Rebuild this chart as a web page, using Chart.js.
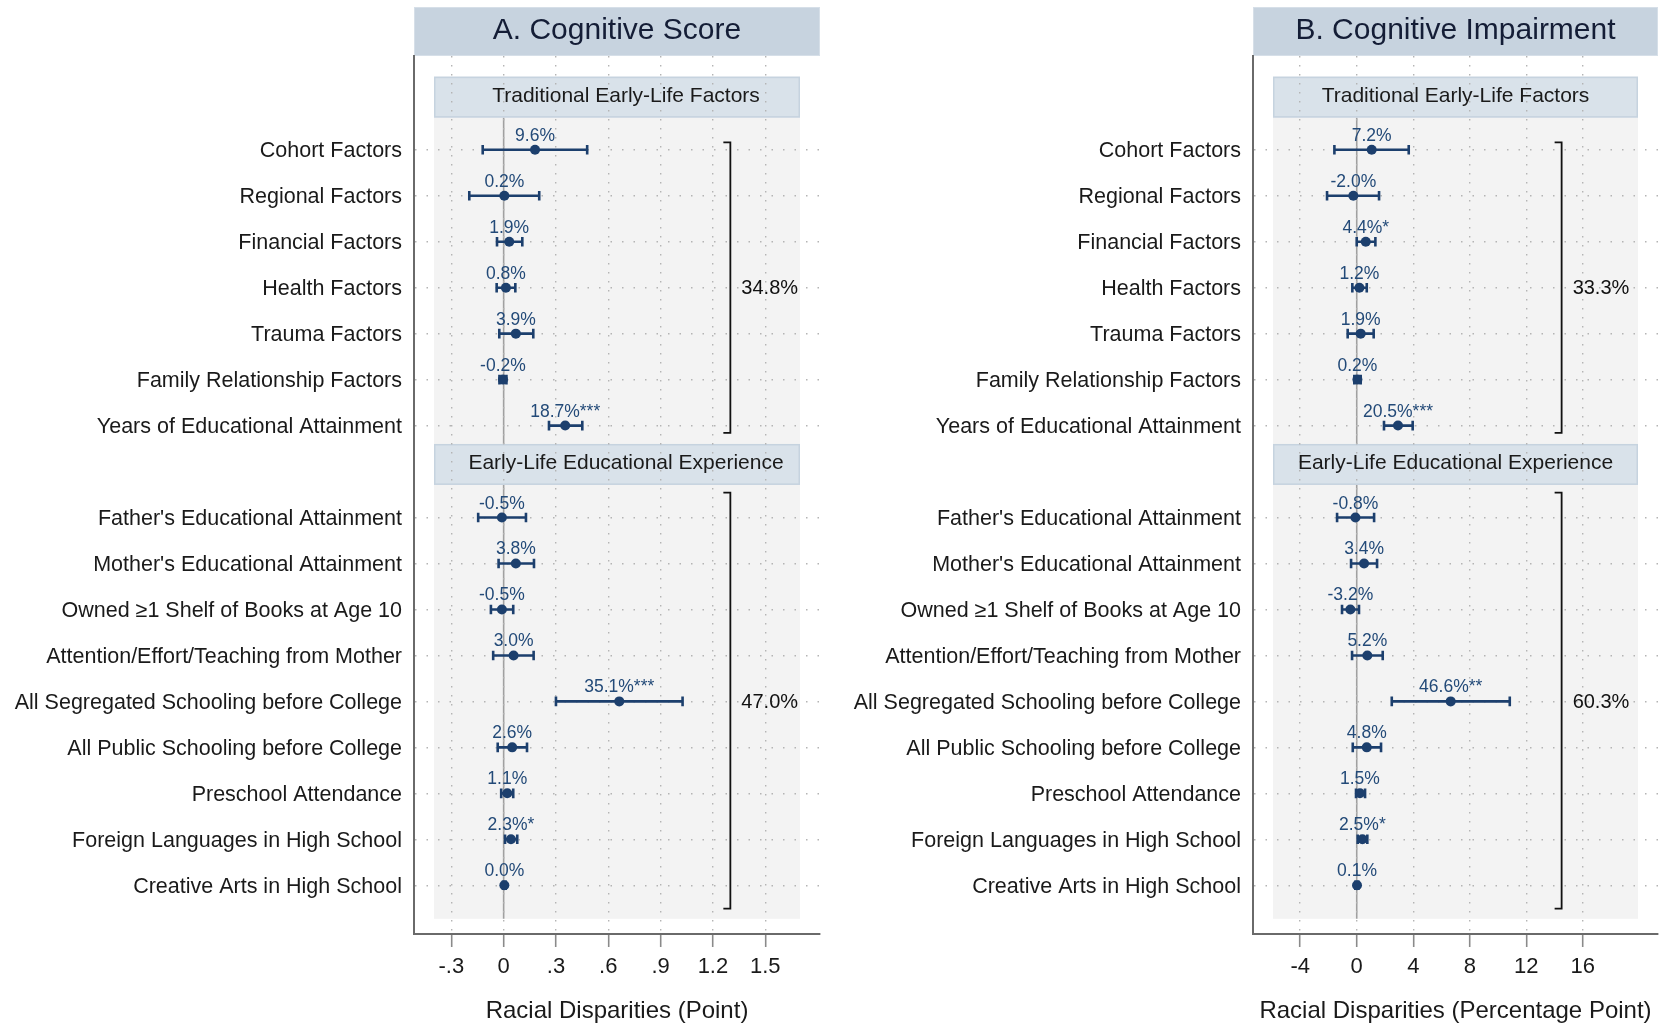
<!DOCTYPE html>
<html>
<head>
<meta charset="utf-8">
<script src="https://cdn.jsdelivr.net/npm/chart.js@4.4.1/dist/chart.umd.min.js"></script>
<style>
  html, body { margin: 0; padding: 0; background: #ffffff; }
  #wrap { position: relative; width: 1665px; height: 1024px; overflow: hidden; }
  canvas { position: absolute; top: 0; }
  #cA { left: 0; }
  #cB { left: 832px; }
</style>
</head>
<body>
<div id="wrap">
  <canvas id="cA" width="832" height="1024"></canvas>
  <canvas id="cB" width="833" height="1024"></canvas>
</div>
<script>
// ---------------- DATA ----------------
const categories = [
  "Cohort Factors", "Regional Factors", "Financial Factors", "Health Factors",
  "Trauma Factors", "Family Relationship Factors", "Years of Educational Attainment",
  "Father's Educational Attainment", "Mother's Educational Attainment",
  "Owned \u22651 Shelf of Books at Age 10", "Attention/Effort/Teaching from Mother",
  "All Segregated Schooling before College", "All Public Schooling before College",
  "Preschool Attendance", "Foreign Languages in High School", "Creative Arts in High School"
];
const rowPositions = [0, 1, 2, 3, 4, 5, 6, 8, 9, 10, 11, 12, 13, 14, 15, 16];
const groupNames = ["Traditional Early-Life Factors", "Early-Life Educational Experience"];
const groupCenterRows = [3, 12];

// Panel A: Cognitive Score (points)
const estA  = [0.180, 0.004, 0.032, 0.013, 0.070, -0.004, 0.353, -0.010, 0.070, -0.010, 0.057, 0.663, 0.049, 0.021, 0.042, 0.004];
const lowA  = [-0.120, -0.197, -0.038, -0.040, -0.025, -0.024, 0.260, -0.146, -0.029, -0.073, -0.060, 0.300, -0.034, -0.014, 0.008, -0.004];
const highA = [0.479, 0.204, 0.107, 0.067, 0.170, 0.016, 0.451, 0.128, 0.174, 0.055, 0.172, 1.026, 0.134, 0.055, 0.078, 0.012];
const pctA  = ["9.6%", "0.2%", "1.9%", "0.8%", "3.9%", "-0.2%", "18.7%***", "-0.5%", "3.8%", "-0.5%", "3.0%", "35.1%***", "2.6%", "1.1%", "2.3%*", "0.0%"];
const totalsA = ["34.8%", "47.0%"];
const ticksA = [-0.3, 0, 0.3, 0.6, 0.9, 1.2, 1.5];
const tickLabelsA = ["-.3", "0", ".3", ".6", ".9", "1.2", "1.5"];

// Panel B: Cognitive Impairment (percentage points)
const estB  = [1.06, -0.24, 0.64, 0.19, 0.28, 0.05, 2.92, -0.09, 0.52, -0.45, 0.75, 6.65, 0.71, 0.23, 0.40, 0.02];
const lowB  = [-1.58, -2.10, 0.00, -0.31, -0.64, -0.17, 1.93, -1.39, -0.40, -1.04, -0.33, 2.48, -0.28, -0.05, 0.07, -0.10];
const highB = [3.68, 1.58, 1.32, 0.71, 1.20, 0.28, 3.96, 1.23, 1.44, 0.16, 1.84, 10.83, 1.72, 0.59, 0.75, 0.12];
const pctB  = ["7.2%", "-2.0%", "4.4%*", "1.2%", "1.9%", "0.2%", "20.5%***", "-0.8%", "3.4%", "-3.2%", "5.2%", "46.6%**", "4.8%", "1.5%", "2.5%*", "0.1%"];
const totalsB = ["33.3%", "60.3%"];
const ticksB = [-4, 0, 4, 8, 12, 16];
const tickLabelsB = ["-4", "0", "4", "8", "12", "16"];

// ---------------- STYLE / LAYOUT ----------------
const FONT = "'Liberation Sans', Arial, Helvetica, sans-serif";
const NAVY = "#1c3f6d";
const LABEL_NAVY = "#234a78";
const GRID = "#b4b4b4";
const AXIS = "#6a6a6a";
const stripSpans = [[-1.59, -0.70], [6.40, 7.29]];
const panelTopRow = -1.59, panelBottomRow = 16.73;
const bracketSpans = [[-0.16, 6.16], [7.46, 16.51]];
const yMin = -2.04, yMax = 17.06;

Chart.defaults.font.family = FONT;
Chart.defaults.color = "#1a1a1a";

const decoPlugin = {
  id: 'deco',
  beforeDraw(chart) {
    const o = chart.options.plugins.deco;
    const { ctx, chartArea: ca, scales: { x, y } } = chart;
    ctx.save();
    // Title box
    ctx.fillStyle = "#c7d3df";
    ctx.fillRect(ca.left, 7, ca.right - ca.left, ca.top - 7);
    ctx.strokeStyle = "#d6dfe8";
    ctx.lineWidth = 1;
    ctx.strokeRect(ca.left + 0.5, 7.5, ca.right - ca.left - 1, ca.top - 8);
    ctx.fillStyle = "#141d36";
    ctx.font = "30px " + FONT;
    ctx.textAlign = "center";
    ctx.textBaseline = "middle";
    ctx.fillText(o.title, (ca.left + ca.right) / 2, (7 + ca.top) / 2 - 1);
    // gray panel
    const pl = ca.left + 20, pr = ca.right - 20;
    const pt = y.getPixelForValue(panelTopRow), pb = y.getPixelForValue(panelBottomRow);
    ctx.fillStyle = "#f3f3f3";
    ctx.fillRect(pl, pt, pr - pl, pb - pt);
    // zero line
    const zx = x.getPixelForValue(0);
    ctx.strokeStyle = "#a0a0a0";
    ctx.lineWidth = 1.6;
    ctx.beginPath();
    ctx.moveTo(zx, y.getPixelForValue(stripSpans[0][1]));
    ctx.lineTo(zx, pb);
    ctx.stroke();
    // strips
    stripSpans.forEach((s, i) => {
      const t = y.getPixelForValue(s[0]), b = y.getPixelForValue(s[1]);
      ctx.fillStyle = "#d9e2ea";
      ctx.fillRect(pl, t, pr - pl, b - t);
      ctx.strokeStyle = "#c6d3df";
      ctx.lineWidth = 1.5;
      ctx.strokeRect(pl + 0.75, t + 0.75, pr - pl - 1.5, b - t - 1.5);
    });
    ctx.restore();
  },
  afterDraw(chart) {
    const { ctx, scales: { x, y } } = chart;
    const o = chart.options.plugins.deco;
    ctx.save();
    // strip text
    const pl = chart.chartArea.left + 20, pr = chart.chartArea.right - 20;
    ctx.fillStyle = "#1a1a1a";
    ctx.font = "21px " + FONT;
    ctx.textAlign = "center";
    ctx.textBaseline = "middle";
    stripSpans.forEach((s, i) => {
      const t = y.getPixelForValue(s[0]), b = y.getPixelForValue(s[1]);
      ctx.fillText(groupNames[i], (pl + pr) / 2 + o.stripShift, (t + b) / 2 - 1);
    });
    ctx.restore();
  },
  beforeDatasetsDraw(chart) {
    const { ctx, scales: { x, y } } = chart;
    const o = chart.options.plugins.deco;
    ctx.save();
    ctx.strokeStyle = NAVY;
    ctx.lineWidth = 2.6;
    o.low.forEach((lo, i) => {
      const yy = y.getPixelForValue(rowPositions[i]);
      const x1 = x.getPixelForValue(lo), x2 = x.getPixelForValue(o.high[i]);
      ctx.beginPath();
      ctx.moveTo(x1, yy); ctx.lineTo(x2, yy);
      ctx.moveTo(x1, yy - 4.8); ctx.lineTo(x1, yy + 4.8);
      ctx.moveTo(x2, yy - 4.8); ctx.lineTo(x2, yy + 4.8);
      ctx.stroke();
    });
    ctx.restore();
  },
  afterDatasetsDraw(chart) {
    const { ctx, scales: { x, y } } = chart;
    const o = chart.options.plugins.deco;
    ctx.save();
    // value labels
    ctx.fillStyle = LABEL_NAVY;
    ctx.font = "17.5px " + FONT;
    ctx.textAlign = "center";
    ctx.textBaseline = "alphabetic";
    o.est.forEach((v, i) => {
      const yy = y.getPixelForValue(rowPositions[i]);
      ctx.fillText(o.pct[i], x.getPixelForValue(v), yy - 9);
    });
    // brackets
    ctx.strokeStyle = "#111111";
    ctx.lineWidth = 1.8;
    const bx = x.getPixelForValue(o.bracketX);
    bracketSpans.forEach((s, i) => {
      const t = y.getPixelForValue(s[0]), b = y.getPixelForValue(s[1]);
      ctx.beginPath();
      ctx.moveTo(bx - 7, t); ctx.lineTo(bx, t); ctx.lineTo(bx, b); ctx.lineTo(bx - 7, b);
      ctx.stroke();
      ctx.fillStyle = "#111111";
      ctx.font = "20px " + FONT;
      ctx.textAlign = "left";
      ctx.textBaseline = "middle";
      ctx.fillText(o.totals[i], bx + 11, y.getPixelForValue(groupCenterRows[i]) + 1);
    });
    ctx.restore();
  }
};

function makePanel(canvasId, p) {
  const ctx = document.getElementById(canvasId);
  return new Chart(ctx, {
    type: 'scatter',
    data: {
      datasets: [{
        data: p.est.map((v, i) => ({ x: v, y: rowPositions[i] })),
        backgroundColor: NAVY,
        borderColor: NAVY,
        borderWidth: 0,
        pointRadius: 5,
        pointHoverRadius: 5
      }]
    },
    options: {
      responsive: false,
      animation: false,
      events: [],
      layout: { padding: { left: 0, right: p.padRight, top: 56, bottom: 0 } },
      plugins: {
        legend: { display: false },
        tooltip: { enabled: false },
        deco: {
          title: p.title, est: p.est, low: p.low, high: p.high, pct: p.pct,
          totals: p.totals, bracketX: p.bracketX, stripShift: p.stripShift
        }
      },
      scales: {
        x: {
          type: 'linear',
          min: p.xMin, max: p.xMax,
          afterBuildTicks: (s) => { s.ticks = p.ticks.map(v => ({ value: v })); },
          afterFit: (s) => { s.height = 90; },
          ticks: {
            autoSkip: false, maxRotation: 0, padding: 7,
            font: { size: 22 }, color: "#1a1a1a",
            callback: (v) => p.tickLabels[p.ticks.indexOf(v)]
          },
          grid: {
            color: GRID, lineWidth: 1.4, drawTicks: true, tickLength: 13,
            tickColor: "#8a8a8a", tickWidth: 1.6, tickBorderDash: []
          },
          border: { display: true, color: AXIS, width: 2, dash: [1.5, 7.5] },
          title: {
            display: true, text: p.axisTitle, font: { size: 24, lineHeight: 1.0 }, color: "#1a1a1a",
            padding: { top: 0, bottom: 1 }
          }
        },
        y: {
          type: 'linear',
          min: yMin, max: yMax, reverse: true,
          afterBuildTicks: (s) => { s.ticks = rowPositions.map(v => ({ value: v })); },
          afterFit: (s) => { s.width = p.yWidth; },
          ticks: {
            autoSkip: false, padding: 12, labelOffset: 1.5,
            font: { size: 21.5 }, color: "#1a1a1a",
            callback: (v) => categories[rowPositions.indexOf(v)]
          },
          grid: { color: GRID, lineWidth: 1.4, drawTicks: false },
          border: { display: true, color: AXIS, width: 2, dash: [1.5, 10] }
        }
      }
    },
    plugins: [decoPlugin]
  });
}

makePanel('cA', {
  title: "A. Cognitive Score", est: estA, low: lowA, high: highA, pct: pctA, totals: totalsA,
  ticks: ticksA, tickLabels: tickLabelsA, xMin: -0.514, xMax: 1.814, bracketX: 1.30,
  axisTitle: "Racial Disparities (Point)", padRight: 12, yWidth: 414, stripShift: 9
});
makePanel('cB', {
  title: "B. Cognitive Impairment", est: estB, low: lowB, high: highB, pct: pctB, totals: totalsB,
  ticks: ticksB, tickLabels: tickLabelsB, xMin: -7.34, xMax: 21.32, bracketX: 14.5,
  axisTitle: "Racial Disparities (Percentage Point)", padRight: 7, yWidth: 421, stripShift: 0
});
</script>
</body>
</html>
